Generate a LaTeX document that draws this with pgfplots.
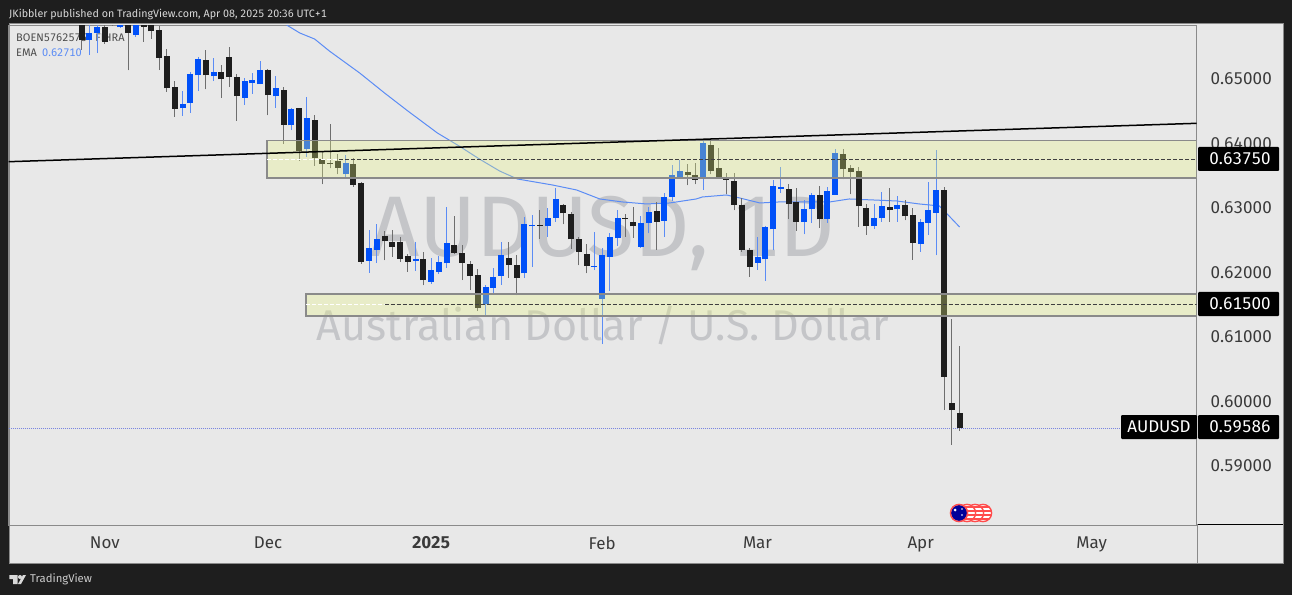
\documentclass[border=0pt]{standalone}
\usepackage{pgfplots}
\usepackage{pgfplotstable}
\usepackage{fontspec}
\setmainfont{Fira Sans}[Numbers=Monospaced]
\pgfplotsset{compat=1.18}

\definecolor{darkbg}{HTML}{1E1E1E}
\definecolor{panelbg}{HTML}{E8E8E8}
\definecolor{edgegray}{HTML}{8A8A8A}
\definecolor{upbody}{HTML}{0050F8}
\definecolor{upwick}{HTML}{5B8CF5}
\definecolor{downbody}{HTML}{1E1E1E}
\definecolor{downwick}{HTML}{6E6E6E}
\definecolor{zonefill}{RGB}{232,245,130}
\definecolor{wmark}{HTML}{C4C5C8}
\definecolor{labeltext}{HTML}{3A3A3A}
\definecolor{lastprice}{HTML}{7A86E0}

% x = trading day counted from 1 Nov 2024
\pgfplotstableread{
x o h l c
-3 0.65899 0.65977 0.65450 0.65604
0 0.65806 0.65899 0.65543 0.65578
1 0.65977 0.66000 0.65822 0.65868
3 0.66000 0.66100 0.65135 0.65713
5 0.65950 0.66000 0.65578 0.65811
6 0.65950 0.66000 0.65625 0.65739
7 0.65755 0.65822 0.65139 0.65330
8 0.65357 0.65460 0.64803 0.64856
9 0.64871 0.64969 0.64411 0.64535
13 0.65294 0.65445 0.64840 0.65057
15 0.65113 0.65212 0.64710 0.64995
16 0.65346 0.65501 0.64876 0.65031
17 0.65026 0.65073 0.64349 0.64736
21 0.65139 0.65155 0.64437 0.64752
23 0.64830 0.64881 0.63997 0.64292
25 0.64546 0.64555 0.63729 0.63884
27 0.64364 0.64437 0.63652 0.63780
28 0.63765 0.63884 0.63368 0.63687
29 0.63698 0.64298 0.63616 0.63689
30 0.63729 0.63842 0.63523 0.63621
32 0.63683 0.63780 0.63326 0.63357
33 0.63383 0.63396 0.62137 0.62163
36 0.62566 0.62644 0.62190 0.62489
37 0.62478 0.62660 0.62246 0.62396
38 0.62469 0.62551 0.62168 0.62210
39 0.62252 0.62283 0.62009 0.62163
41 0.62210 0.62319 0.61802 0.61880
45 0.62432 0.62877 0.62283 0.62303
46 0.62298 0.62422 0.61880 0.62153
47 0.62137 0.62179 0.61725 0.61942
48 0.61962 0.62060 0.61404 0.61455
52 0.62226 0.62469 0.61920 0.62122
53 0.62112 0.62267 0.61647 0.61911
56 0.62742 0.62965 0.62525 0.62726
59 0.63042 0.63067 0.62748 0.62918
60 0.62908 0.62939 0.62370 0.62515
61 0.62515 0.62551 0.62112 0.62319
62 0.62292 0.62438 0.61988 0.62098
67 0.62850 0.62903 0.62556 0.62830
68 0.62788 0.63016 0.62540 0.62717
71 0.62954 0.63098 0.62349 0.62788
75 0.63563 0.63678 0.63352 0.63512
76 0.63512 0.63703 0.63368 0.63439
78 0.63972 0.64090 0.63523 0.63574
79 0.63616 0.63926 0.63461 0.63470
80 0.63486 0.63548 0.63222 0.63435
81 0.63424 0.63548 0.62965 0.63047
82 0.63042 0.63151 0.62323 0.62349
83 0.62345 0.62376 0.61936 0.62086
88 0.63295 0.63377 0.62825 0.63058
89 0.63098 0.63315 0.62649 0.62784
92 0.63197 0.63341 0.62695 0.62825
95 0.63833 0.63910 0.63445 0.63600
96 0.63625 0.63662 0.63213 0.63563
97 0.63574 0.63636 0.62711 0.63027
98 0.62996 0.63058 0.62582 0.62721
101 0.63021 0.63315 0.62788 0.62969
103 0.63042 0.63120 0.62810 0.62872
104 0.62887 0.63005 0.62194 0.62463
108 0.63284 0.63326 0.59870 0.60386
109 0.59983 0.61275 0.59327 0.59865
110 0.59828 0.60861 0.59544 0.59586
}\downbars

\pgfplotstableread{
x o h l c
-2 0.65604 0.65977 0.65372 0.65718
-1 0.65718 0.65899 0.65403 0.65806
2 0.65806 0.66000 0.65798 0.65900
4 0.65682 0.66000 0.65651 0.65900
10 0.64546 0.64814 0.64431 0.64617
11 0.64633 0.65113 0.64478 0.65082
12 0.65057 0.65341 0.64814 0.65315
14 0.65042 0.65330 0.64969 0.65113
18 0.64710 0.65011 0.64597 0.64974
19 0.64933 0.65098 0.64772 0.64985
20 0.64922 0.65279 0.64915 0.65139
22 0.64732 0.65051 0.64555 0.64861
24 0.64282 0.64555 0.64209 0.64535
26 0.63910 0.64721 0.63791 0.64400
31 0.63523 0.63822 0.63470 0.63703
34 0.62179 0.62655 0.61998 0.62380
35 0.62354 0.62748 0.62153 0.62515
40 0.62179 0.62474 0.62024 0.62210
42 0.61854 0.62221 0.61827 0.62035
43 0.62009 0.62257 0.61973 0.62168
44 0.62143 0.63021 0.62075 0.62458
49 0.61508 0.61807 0.61327 0.61776
50 0.61765 0.62066 0.61688 0.61936
51 0.61947 0.62474 0.61807 0.62267
54 0.61988 0.62861 0.61911 0.62748
55 0.62717 0.62887 0.62091 0.62732
57 0.62721 0.62996 0.62551 0.62850
58 0.62850 0.63306 0.62788 0.63140
63 0.62097 0.62624 0.62035 0.62106
64 0.61595 0.62385 0.60888 0.62272
65 0.62246 0.62618 0.61714 0.62556
66 0.62531 0.62965 0.62411 0.62850
69 0.62396 0.62877 0.62385 0.62773
70 0.62773 0.63016 0.62608 0.62939
72 0.62804 0.63228 0.62551 0.63176
73 0.63171 0.63667 0.63109 0.63512
74 0.63476 0.63740 0.63470 0.63569
77 0.63470 0.64050 0.63280 0.64013
84 0.62153 0.62551 0.62044 0.62246
85 0.62205 0.62721 0.61869 0.62711
86 0.62670 0.63430 0.62345 0.63346
87 0.63300 0.63636 0.63238 0.63326
90 0.62784 0.63125 0.62593 0.62990
91 0.62980 0.63238 0.62773 0.63197
93 0.62835 0.63326 0.62773 0.63264
94 0.63202 0.63910 0.63202 0.63848
99 0.62721 0.63058 0.62680 0.62850
100 0.62845 0.63253 0.62788 0.63032
102 0.62980 0.63187 0.62788 0.63052
105 0.62447 0.62835 0.62319 0.62779
106 0.62768 0.63408 0.62582 0.62965
107 0.62928 0.63895 0.62267 0.63284
}\upbars

\begin{document}
\begin{tikzpicture}[x=1pt,y=1pt]
\useasboundingbox (0,0) rectangle (1292,595);
\fill[darkbg] (0,0) rectangle (1292,595);
\fill[panelbg,draw=edgegray,line width=1pt] (9,32) rectangle (1283,571);

% watermark and legend sit under the candles
\node[text=wmark,font=\fontsize{86}{86}\selectfont] at (603,362) {AUDUSD, 1D};
\node[text=wmark,font=\fontsize{43}{43}\selectfont] at (603,270) {Australian Dollar / U.S. Dollar};
\node[anchor=west,inner sep=0pt,text=black!70,font=\fontsize{11}{11}\selectfont] at (16,557) {BOEN5762575 · FIHRA};
\node[anchor=west,inner sep=0pt,text=black!70,font=\fontsize{11}{11}\selectfont] at (16,542) {EMA};
\node[anchor=west,inner sep=0pt,text=upwick,font=\fontsize{11}{11}\selectfont] at (42,542) {0.62710};

\begin{axis}[
    at={(11,108.5)},
    anchor=south west,
    scale only axis,
    width=1188pt,
    height=500pt,
    xmin=-12.39, xmax=140.5,
    ymin=0.58085, ymax=0.65837,
    axis line style={draw=edgegray,line width=1pt},
    major tick length=0pt,
    xtick={0,21,42,64,84,105,127},
    xticklabels={Nov,Dec,\textbf{2025},Feb,Mar,Apr,May},
    xticklabel style={text=labeltext,font=\fontsize{17}{17}\selectfont,yshift=-8pt},
    ytick={0.59,0.60,0.61,0.62,0.63,0.64,0.65},
    yticklabel pos=right,
    yticklabel style={text=labeltext,font=\fontsize{17}{17}\selectfont,xshift=10.5pt,
        /pgf/number format/.cd,fixed,fixed zerofill,precision=5,assume math mode=true},
    scaled y ticks=false,
    wick/.style={draw=none,mark=none,forget plot,error bars/.cd,y dir=plus,y explicit,error mark=none,
        error bar style={line width=1pt,draw=#1}},
    body/.style={draw=none,mark=none,forget plot,error bars/.cd,y dir=plus,y explicit,error mark=none,
        error bar style={line width=6pt,draw=#1}},
]
% 50-day EMA
\addplot[upwick,line width=1pt] coordinates {
    (23.4,0.65837) (25.1,0.65713) (27,0.65620) (28.9,0.65434) (32.8,0.65093) (36,0.64783)
    (39,0.64504) (42.8,0.64163) (45.6,0.63961) (48.2,0.63760) (50.8,0.63574) (53.1,0.63450)
    (57.6,0.63357) (60.7,0.63280) (63.7,0.63140) (66.6,0.63094) (69.7,0.63063) (72.7,0.63078)
    (76.1,0.63140) (76.9,0.63171) (80,0.63202) (81.7,0.63156) (84.3,0.63078) (86.8,0.63094)
    (89,0.63094) (93.3,0.63094) (95.8,0.63140) (98.8,0.63125) (101.9,0.63109) (104.8,0.63063)
    (107.4,0.63032) (108.4,0.62908) (110,0.62706)
};

% last price
\addplot[color=lastprice,line width=1pt,dash pattern=on 1pt off 1pt] coordinates {(-12.39,0.59586) (130.6,0.59586)};

% candles: wicks first, then bodies
\addplot[wick=downwick] table[x=x,y=l,y error plus expr=\thisrow{h}-\thisrow{l}] {\downbars};
\addplot[wick=upwick] table[x=x,y=l,y error plus expr=\thisrow{h}-\thisrow{l}] {\upbars};
\addplot[body=downbody] table[x=x,y=c,y error plus expr=\thisrow{o}-\thisrow{c}] {\downbars};
\addplot[body=upbody] table[x=x,y=o,y error plus expr=\thisrow{c}-\thisrow{o}] {\upbars};

% supply and demand zones
\addplot[fill=zonefill,fill opacity=0.31,draw=edgegray,line width=1.2pt] coordinates {(20.87,0.64047) (140.5,0.64047) (140.5,0.63466) (20.87,0.63466)} --cycle;
\addplot[fill=zonefill,fill opacity=0.31,draw=edgegray,line width=1.2pt] coordinates {(25.9,0.61668) (140.5,0.61668) (140.5,0.61327) (25.9,0.61327)} --cycle;

% levels
\addplot[white,line width=0.8pt,dash pattern=on 4pt off 2pt] coordinates {(20.9,0.63750) (30.2,0.63750)};
\addplot[black!75,line width=1.1pt,dash pattern=on 4pt off 2pt] coordinates {(30.2,0.63750) (140.5,0.63750)};
\addplot[white,line width=0.8pt,dash pattern=on 4pt off 2pt] coordinates {(25.9,0.61500) (36,0.61500)};
\addplot[black!75,line width=1.1pt,dash pattern=on 4pt off 2pt] coordinates {(36,0.61500) (140.5,0.61500)};

% trend line
\addplot[black,line width=1.5pt] coordinates {(-12.39,0.63718) (140.5,0.64313)};
\end{axis}

% time scale corner
\draw[black,line width=1pt] (1197,71) -- (1283,71);
\draw[edgegray,line width=1pt] (1197,32) -- (1197,71);

% price tags
\foreach \yy/\txt in {436/0.63750,291/0.61500,168/0.59586}{
  \fill[black,rounded corners=1pt] (1198,\yy-12) rectangle (1279,\yy+12);
  \node[white,font=\fontsize{17}{17}\selectfont] at (1240,\yy) {\txt};
}
\fill[black,rounded corners=1pt] (1121,156) rectangle (1197,180);
\node[white,font=\fontsize{17}{17}\selectfont] at (1159,168) {AUDUSD};

% economic calendar icons
\foreach \cx in {983,975,967}{
  \begin{scope}
    \path[clip] (\cx,82) circle (9);
    \fill[white] (\cx,82) circle (9);
    \foreach \dy in {-6,-2,2,6} \fill[red!70!white] (\cx-9,82+\dy-1) rectangle (\cx+9,82+\dy+1);
  \end{scope}
  \draw[red!70!white,line width=1.4pt] (\cx,82) circle (8.6);
}
\fill[blue!60!black] (959,82) circle (8);
\draw[red!70!white,line width=1.4pt] (959,82) circle (8.6);
\fill[white] (955,85) circle (1.5);
\fill[white] (962,80) circle (0.9);
\fill[white] (962,86) circle (0.9);

% header and footer
\node[anchor=west,inner sep=0pt,text=white!85!black,font=\fontsize{10.7}{11}\selectfont] at (9,581) {JKibbler published on TradingView.com, Apr 08, 2025 20:36 UTC+1};
\fill[white!85!black] (9.3,20) rectangle (17.5,16) (13,16) rectangle (17.5,11);
\fill[white!85!black] (20,18) circle (2);
\fill[white!85!black] (18,11) -- (21,11) -- (26,20) -- (23,20) -- cycle;
\node[anchor=west,inner sep=0pt,text=white!80!black,font=\fontsize{11.3}{12}\selectfont] at (30,16) {TradingView};
\end{tikzpicture}
\end{document}
